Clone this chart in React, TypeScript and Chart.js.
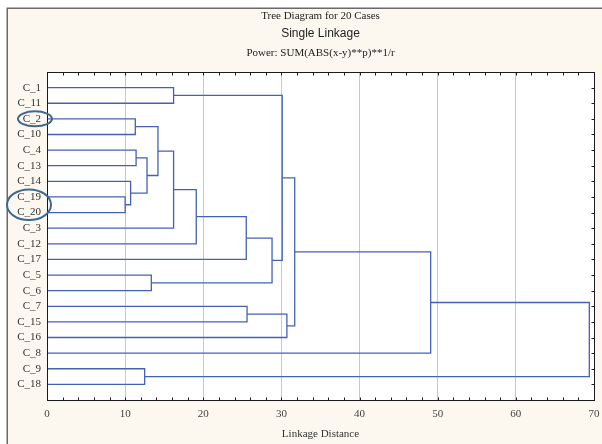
import React, { useEffect, useRef } from 'react';
import { Chart, registerables } from 'chart.js';

Chart.register(...registerables);

// Leaf order (top to bottom)
const caseLabels = [
  'C_1', 'C_11', 'C_2', 'C_10', 'C_4', 'C_13', 'C_14', 'C_19', 'C_20', 'C_3',
  'C_12', 'C_17', 'C_5', 'C_6', 'C_7', 'C_15', 'C_16', 'C_8', 'C_9', 'C_18',
];

// Merge steps: mK refers to the K-th merge
const mergeLeft = ['C_19', 'C_14', 'C_2', 'C_4', 'C_9', 'm3', 'C_5', 'm2', 'C_1', 'm7', 'm9', 'm10', 'C_7', 'm11', 'm8', 'm12', 'm14', 'm16', 'm17'];
const mergeRight = ['C_20', 'm0', 'C_10', 'C_13', 'C_18', 'm1', 'C_6', 'm5', 'C_11', 'C_3', 'C_12', 'C_17', 'C_15', 'm6', 'm13', 'C_16', 'm15', 'C_8', 'm4'];
const mergeDistance = [10.0, 10.7, 11.3, 11.4, 12.5, 12.8, 13.35, 14.2, 16.2, 16.2, 19.1, 25.5, 25.6, 28.8, 30.1, 30.7, 31.7, 49.1, 69.4];

const xTickValues = [0, 10, 20, 30, 40, 50, 60, 70];
const circledGroups = [['C_2'], ['C_19', 'C_20']];

const titleLines = ['Tree Diagram for 20 Cases', 'Single Linkage', 'Power: SUM(ABS(x-y)**p)**1/r'];
const xTitle = 'Linkage Distance';

const LINE_COLOR = '#4561b5';
const SERIF = '"Liberation Serif", "Times New Roman", serif';
const SANS = '"Liberation Sans", Arial, sans-serif';

function buildSegments() {
  const nodes: { y: number; h: number }[] = [];
  const get = (name: string) => {
    if (name.startsWith('m')) return nodes[parseInt(name.slice(1), 10)];
    return { y: caseLabels.indexOf(name) + 1, h: 0 };
  };
  const segs: { x: number; y: number }[][] = [];
  for (let i = 0; i < mergeDistance.length; i++) {
    const a = get(mergeLeft[i]);
    const b = get(mergeRight[i]);
    const d = mergeDistance[i];
    segs.push([
      { x: a.h, y: a.y },
      { x: d, y: a.y },
      { x: d, y: b.y },
      { x: b.h, y: b.y },
    ]);
    nodes.push({ y: (a.y + b.y) / 2, h: d });
  }
  return segs;
}

const framePlugin = {
  id: 'frame',
  beforeDraw(chart: any) {
    const { ctx, width, height, chartArea } = chart;
    ctx.save();
    ctx.fillStyle = '#ffffff';
    ctx.fillRect(0, 0, width, height);
    ctx.fillStyle = '#fdf8ef';
    ctx.fillRect(7, 8, width - 7, height - 8);
    ctx.strokeStyle = '#6a6a6a';
    ctx.lineWidth = 1.5;
    ctx.beginPath();
    ctx.moveTo(7.25, height);
    ctx.lineTo(7.25, 8.25);
    ctx.lineTo(width, 8.25);
    ctx.stroke();
    ctx.fillStyle = '#ffffff';
    ctx.fillRect(chartArea.left, chartArea.top, chartArea.right - chartArea.left, chartArea.bottom - chartArea.top);

    const cx = (chartArea.left + chartArea.right) / 2;
    ctx.fillStyle = '#222';
    ctx.textAlign = 'center';
    ctx.textBaseline = 'middle';
    ctx.font = `11px ${SERIF}`;
    ctx.fillText(titleLines[0], cx, 16);
    ctx.font = `12px ${SANS}`;
    ctx.fillText(titleLines[1], cx, 34);
    ctx.font = `11px ${SERIF}`;
    ctx.fillText(titleLines[2], cx, 53);
    ctx.restore();
  },
  afterDraw(chart: any) {
    const { ctx, chartArea, scales } = chart;
    const xs = scales.x;
    const ys = scales.y;
    const L = Math.round(chartArea.left) + 0.5;
    const R = Math.round(chartArea.right) + 0.5;
    const T = Math.round(chartArea.top) + 0.5;
    const B = Math.round(chartArea.bottom) + 0.5;
    ctx.save();
    ctx.strokeStyle = '#1a1a1a';
    ctx.lineWidth = 1;
    ctx.strokeRect(L, T, R - L, B - T);
    ctx.beginPath();
    // minor ticks on top and bottom every 2 units
    for (let v = 0; v <= 70; v += 2) {
      const px = Math.round(xs.getPixelForValue(v)) + 0.5;
      ctx.moveTo(px, B);
      ctx.lineTo(px, B - 3);
      ctx.moveTo(px, T);
      ctx.lineTo(px, T + 3);
    }
    // right axis ticks at every case
    for (let i = 1; i <= caseLabels.length; i++) {
      const py = Math.round(ys.getPixelForValue(i)) + 0.5;
      ctx.moveTo(R, py);
      ctx.lineTo(R - 3, py);
    }
    ctx.stroke();

    // circles around highlighted labels
    ctx.strokeStyle = '#3b6894';
    ctx.lineWidth = 2;
    circledGroups.forEach((g) => {
      const ysVals = g.map((n) => ys.getPixelForValue(caseLabels.indexOf(n) + 1));
      const cy = (Math.min(...ysVals) + Math.max(...ysVals)) / 2;
      const span = Math.max(...ysVals) - Math.min(...ysVals);
      const multi = g.length > 1;
      const rx = multi ? 22 : 17;
      const ry = span / 2 + 7.5;
      const ccx = chartArea.left - (multi ? 18 : 12);
      ctx.beginPath();
      ctx.ellipse(ccx, cy, rx, ry, 0, 0, Math.PI * 2);
      ctx.stroke();
    });
    ctx.restore();
  },
};

export default function App() {
  const ref = useRef<HTMLCanvasElement | null>(null);
  useEffect(() => {
    if (!ref.current) return;
    const segs = buildSegments();
    const chart = new Chart(ref.current, {
      type: 'scatter',
      data: {
        datasets: segs.map((s) => ({
          data: s,
          showLine: true,
          borderColor: LINE_COLOR,
          borderWidth: 1.3,
          pointRadius: 0,
          pointHoverRadius: 0,
          tension: 0,
          fill: false,
        })),
      },
      options: {
        responsive: false,
        animation: false,
        events: [],
        layout: { padding: { left: 0, right: 8, top: 72, bottom: 0 } },
        plugins: { legend: { display: false }, tooltip: { enabled: false }, title: { display: false } },
        scales: {
          x: {
            type: 'linear',
            position: 'bottom',
            min: 0,
            max: 70,
            afterBuildTicks: (scale: any) => {
              scale.ticks = xTickValues.map((v) => ({ value: v }));
            },
            afterFit: (scale: any) => {
              scale.height = 44;
              scale.paddingLeft = 0;
              scale.paddingRight = 0;
            },
            grid: {
              drawTicks: false,
              color: (c: any) => (c.tick && (c.tick.value === 0 || c.tick.value === 70) ? 'rgba(0,0,0,0)' : '#c9c9c9'),
              lineWidth: 1,
            },
            border: { display: false },
            ticks: { padding: 8, color: '#444', font: { family: SERIF, size: 11 } },
            title: {
              display: true,
              text: xTitle,
              color: '#333',
              font: { family: SERIF, size: 11 },
              padding: { top: 0, bottom: 3 },
            },
          },
          y: {
            type: 'linear',
            position: 'left',
            min: 0,
            max: caseLabels.length + 1,
            reverse: true,
            afterBuildTicks: (scale: any) => {
              scale.ticks = caseLabels.map((_, i) => ({ value: i + 1 }));
            },
            afterFit: (scale: any) => {
              scale.width = 47;
              scale.paddingTop = 0;
              scale.paddingBottom = 0;
            },
            grid: { display: false, drawTicks: false },
            border: { display: false },
            ticks: {
              autoSkip: false,
              padding: 6,
              color: '#333',
              font: { family: SERIF, size: 11 },
              callback: (v: any) => caseLabels[Number(v) - 1] ?? '',
            },
          },
        },
      },
      plugins: [framePlugin],
    });
    return () => chart.destroy();
  }, []);
  return (
    <div style={{ position: 'fixed', left: 0, top: 0, width: 602, height: 444 }}>
      <canvas ref={ref} width={602} height={444} style={{ display: 'block', width: 602, height: 444 }} />
    </div>
  );
}
